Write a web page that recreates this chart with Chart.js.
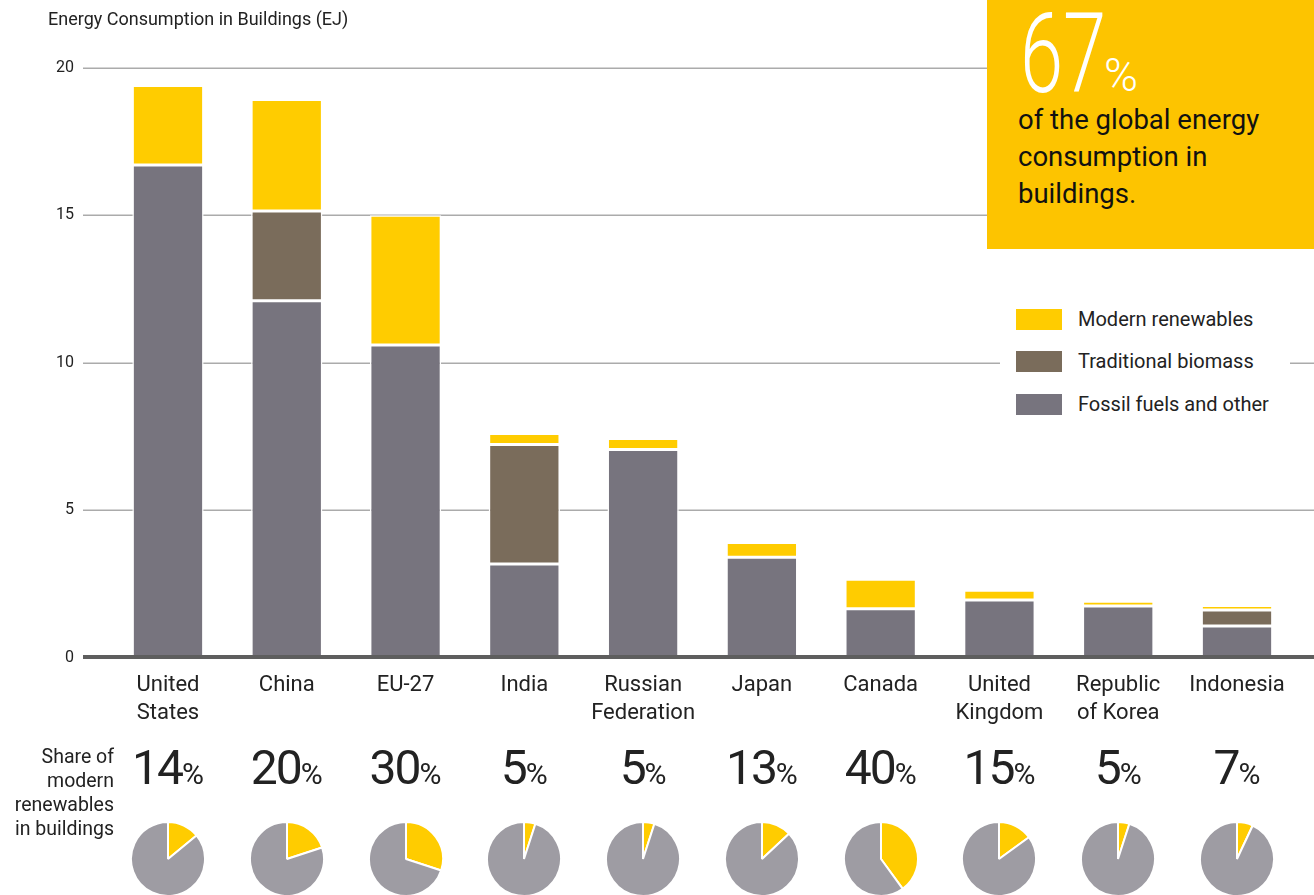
<!DOCTYPE html>
<html>
<head>
<meta charset="utf-8">
<script src="https://cdn.jsdelivr.net/npm/chart.js@4.4.1/dist/chart.umd.min.js"></script>
<style>
html,body{margin:0;padding:0;width:1314px;height:895px;overflow:hidden;background:#fff;font-family:Roboto,"Noto Sans",sans-serif;}
#wrap{position:relative;width:1314px;height:895px;overflow:hidden;}
#main{position:absolute;left:0;top:0;}
.abs{position:absolute;white-space:nowrap;}
#title{left:48px;top:9.5px;font-size:18px;line-height:18px;color:#222;}
#box{left:987px;top:0;width:327px;height:249px;background:#fdc400;}
#big{left:1020px;top:-1.4px;font-size:111px;line-height:111px;font-weight:300;color:#fff;transform:scaleX(0.7);transform-origin:0 0;}
#bigpc{left:1104px;top:52.3px;font-size:46px;line-height:46px;font-weight:300;color:#fff;}
#boxtxt{left:1018px;top:100.6px;font-size:27.5px;line-height:37px;color:#111;}
#legbg{left:1000px;top:295px;width:290px;height:132px;background:#fff;}
.sw{position:absolute;left:1016px;width:46px;height:21px;}
.lt{position:absolute;left:1078px;font-size:20px;line-height:20px;color:#222;white-space:nowrap;}
#share{left:0;top:744.5px;width:114px;text-align:right;font-size:19.5px;line-height:24px;color:#222;}
.pct{position:absolute;top:743.6px;width:140px;text-align:center;font-size:48px;line-height:48px;color:#222;letter-spacing:-2px;white-space:nowrap;}
.pct span{font-size:30px;letter-spacing:0;}
.pie{position:absolute;top:821px;width:76px;height:76px;}
</style>
</head>
<body>
<div id="wrap">
<canvas id="main" width="1314" height="895"></canvas>
<div id="title" class="abs">Energy Consumption in Buildings (EJ)</div>
<div id="box" class="abs"></div>
<div id="big" class="abs">67</div>
<div id="bigpc" class="abs">%</div>
<div id="boxtxt" class="abs">of the global energy<br>consumption in<br>buildings.</div>
<div id="legbg" class="abs"></div>
<div id="share" class="abs">Share of<br>modern<br>renewables<br>in buildings</div>
</div>
<script>
const categories = [['United','States'],['China'],['EU-27'],['India'],['Russian','Federation'],['Japan'],['Canada'],['United','Kingdom'],['Republic','of Korea'],['Indonesia']];
const fossil     = [16.7, 12.1, 10.6, 3.17, 7.05, 3.4, 1.65, 1.95, 1.75, 1.07];
const biomass    = [0,    3.04, 0,    4.05, 0,    0,   0,    0,    0,    0.54];
const renewables = [2.7,  3.78, 4.4,  0.38, 0.38, 0.5, 1.0,  0.33, 0.16, 0.15];
const shares     = [14, 20, 30, 5, 5, 13, 40, 15, 5, 7];
const yTicks     = [0, 5, 10, 15, 20];
const seriesNames = ['Fossil fuels and other','Traditional biomass','Modern renewables'];

const COL_FOSSIL = '#77747e', COL_BIO = '#7a6c5b', COL_REN = '#ffcc00', COL_PIEGREY = '#9e9ca3';

Chart.defaults.font.family = 'Roboto, "Noto Sans", sans-serif';

const gridPlugin = {
  id: 'gridPlugin',
  beforeDatasetsDraw(chart) {
    const ctx = chart.ctx, y = chart.scales.y;
    ctx.save();
    ctx.strokeStyle = '#ababab';
    ctx.lineWidth = 1.5;
    yTicks.forEach(v => {
      if (v === 0) return;
      const py = Math.round(y.getPixelForValue(v)) + 0.25;
      ctx.beginPath(); ctx.moveTo(83, py); ctx.lineTo(1314, py); ctx.stroke();
    });
    ctx.restore();
  },
  afterDatasetsDraw(chart) {
    const ctx = chart.ctx, y = chart.scales.y;
    const py = y.getPixelForValue(0) - 0.5;
    ctx.save();
    ctx.strokeStyle = '#5e5e5e';
    ctx.lineWidth = 4;
    ctx.beginPath(); ctx.moveTo(83, py); ctx.lineTo(1314, py); ctx.stroke();
    ctx.restore();
  }
};

const barCommon = {borderColor:'#ffffff', borderWidth:1.5, borderSkipped:false, barPercentage:0.6, categoryPercentage:1.0};

const chart = new Chart(document.getElementById('main'), {
  type: 'bar',
  data: {
    labels: categories,
    datasets: [
      Object.assign({label: seriesNames[0], data: fossil, backgroundColor: COL_FOSSIL}, barCommon),
      Object.assign({label: seriesNames[1], data: biomass, backgroundColor: COL_BIO}, barCommon),
      Object.assign({label: seriesNames[2], data: renewables, backgroundColor: COL_REN}, barCommon)
    ]
  },
  options: {
    responsive: false,
    animation: false,
    devicePixelRatio: 1,
    layout: {padding: {top: 67.7, right: 17.6, bottom: 0, left: 0}},
    plugins: {legend: {display: false}, tooltip: {enabled: false}, title: {display: false}},
    scales: {
      x: {
        stacked: true,
        grid: {display: false, drawTicks: false},
        border: {display: false},
        ticks: {autoSkip: false, maxRotation: 0, minRotation: 0, padding: 14, color: '#222', font: {size: 22, lineHeight: 1.27}},
        afterFit(scale) { scale.height = 237.5; }
      },
      y: {
        stacked: true,
        min: 0, max: 20,
        afterBuildTicks(scale) { scale.ticks = yTicks.map(v => ({value: v})); },
        grid: {display: false, drawTicks: false},
        border: {display: false},
        ticks: {padding: 34.6, color: '#222', font: {size: 16}},
        afterFit(scale) { scale.width = 108.6; }
      }
    }
  },
  plugins: [gridPlugin]
});

// legend (HTML)
const wrap = document.getElementById('wrap');
const legendItems = [
  {name: seriesNames[2], color: COL_REN, top: 309},
  {name: seriesNames[1], color: COL_BIO, top: 351},
  {name: seriesNames[0], color: COL_FOSSIL, top: 394}
];
legendItems.forEach(it => {
  const sw = document.createElement('div'); sw.className = 'sw'; sw.style.top = it.top + 'px'; sw.style.background = it.color; wrap.appendChild(sw);
  const t = document.createElement('div'); t.className = 'lt'; t.style.top = it.top + 'px'; t.textContent = it.name; wrap.appendChild(t);
});

// share percentages and pies, positioned from the x scale
const xs = chart.scales.x;
shares.forEach((s, i) => {
  const cx = xs.getPixelForValue(i);
  const p = document.createElement('div'); p.className = 'pct';
  p.style.left = (cx - 70) + 'px';
  p.innerHTML = s + '<span>%</span>';
  wrap.appendChild(p);
  const c = document.createElement('canvas'); c.className = 'pie';
  c.width = 76; c.height = 76;
  c.style.left = (cx - 38) + 'px';
  wrap.appendChild(c);
  new Chart(c, {
    type: 'pie',
    data: {labels: ['Modern renewables','Other'], datasets: [{data: [s, 100 - s], backgroundColor: [COL_REN, COL_PIEGREY], borderColor: '#ffffff', borderWidth: 2}]},
    options: {responsive: false, animation: false, devicePixelRatio: 1, layout: {padding: 0}, plugins: {legend: {display: false}, tooltip: {enabled: false}}}
  });
});
</script>
</body>
</html>
